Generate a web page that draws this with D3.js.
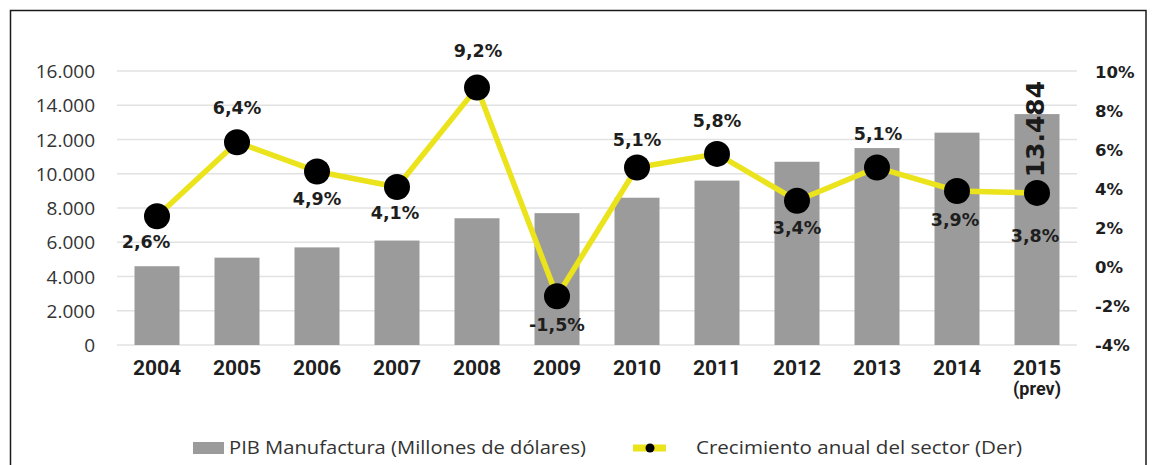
<!DOCTYPE html>
<html>
<head>
<meta charset="utf-8">
<script src="https://cdn.jsdelivr.net/npm/d3@7"></script>
<style>
  html, body { margin: 0; padding: 0; background: #fff; }
  svg { display: block; }
</style>
</head>
<body>
<svg id="chart" width="1152" height="465"></svg>
<script>
// ---- Data ----
const years = ["2004","2005","2006","2007","2008","2009","2010","2011","2012","2013","2014","2015"];
const yearSub = ["","","","","","","","","","","","(prev)"];
const pibManufactura = [4600, 5100, 5700, 6100, 7400, 7700, 8600, 9600, 10700, 11500, 12400, 13484];
const crecimiento = [2.6, 6.4, 4.9, 4.1, 9.2, -1.5, 5.1, 5.8, 3.4, 5.1, 3.9, 3.8];
const crecimientoLabels = ["2,6%","6,4%","4,9%","4,1%","9,2%","-1,5%","5,1%","5,8%","3,4%","5,1%","3,9%","3,8%"];
const leftTicks = [0, 2000, 4000, 6000, 8000, 10000, 12000, 14000, 16000];
const leftTickLabels = ["0","2.000","4.000","6.000","8.000","10.000","12.000","14.000","16.000"];
const rightTicks = [-4, -2, 0, 2, 4, 6, 8, 10];
const rightTickLabels = ["-4%","-2%","0%","2%","4%","6%","8%","10%"];
const lastBarLabel = "13.484";
const legendBar = "PIB Manufactura (Millones de dólares)";
const legendLine = "Crecimiento anual del sector (Der)";

// ---- Layout / style ----
const labelDy = [32, -28, 34, 32, -31, 35, -22, -27, 33, -28, 35, 49];
const labelDx = [-11, 0, 0, -2, 1, 0, 0, 0, 0, 1, -2, -2];
const plotLeft = 117, plotRight = 1077, plotTop = 71, plotBottom = 345;
const barColor = "#9b9b9b";
const lineColor = "#ebe31c";
const gridColor = "#e2e2e2";
const textColor = "#1e1e1e";

const svg = d3.select("#chart");

// frame
svg.append("rect")
  .attr("x", 10.5).attr("y", 10.5)
  .attr("width", 1135.5).attr("height", 470)
  .attr("fill", "none").attr("stroke", "#1a1a1a").attr("stroke-width", 1.5);

const x = d3.scaleBand()
  .domain(years)
  .range([plotLeft, plotRight])
  .paddingInner(0.4375)
  .paddingOuter(0.21875);

const yL = d3.scaleLinear().domain([0, 16000]).range([plotBottom, plotTop]);
const yR = d3.scaleLinear().domain([-4, 10]).range([plotBottom, 72]);

// gridlines
svg.append("g")
  .selectAll("line")
  .data(leftTicks)
  .join("line")
  .attr("x1", plotLeft).attr("x2", plotRight)
  .attr("y1", d => yL(d)).attr("y2", d => yL(d))
  .attr("stroke", gridColor).attr("stroke-width", 1.5);

// left axis
const leftAxis = d3.axisLeft(yL)
  .tickValues(leftTicks)
  .tickFormat((d, i) => leftTickLabels[i])
  .tickSize(0).tickPadding(0);
const gL = svg.append("g").attr("transform", "translate(95,0)").call(leftAxis);
gL.select(".domain").remove();
gL.selectAll("text")
  .attr("font-family", "'Open Sans', sans-serif")
  .attr("font-size", 19)
  .attr("fill", "#333")
  .attr("dy", "0.35em");

// right axis
const rightAxis = d3.axisRight(yR)
  .tickValues(rightTicks)
  .tickFormat((d, i) => rightTickLabels[i])
  .tickSize(0).tickPadding(0);
const gR = svg.append("g").attr("transform", "translate(1095,0)").call(rightAxis);
gR.select(".domain").remove();
gR.selectAll("text")
  .attr("font-family", "'DejaVu Sans', sans-serif")
  .attr("font-weight", "bold")
  .attr("font-size", 16.5)
  .attr("fill", textColor)
  .attr("dy", "0.35em");

// bars
svg.append("g")
  .selectAll("rect")
  .data(pibManufactura)
  .join("rect")
  .attr("x", (d, i) => x(years[i]))
  .attr("y", d => yL(d))
  .attr("width", x.bandwidth())
  .attr("height", d => yL(0) - yL(d))
  .attr("fill", barColor);

// bottom axis
const bottomAxis = d3.axisBottom(x).tickSize(0).tickPadding(0);
const gB = svg.append("g").attr("transform", `translate(0,${plotBottom})`).call(bottomAxis);
gB.select(".domain").remove();
gB.selectAll("text")
  .attr("font-family", "Roboto, sans-serif")
  .attr("font-weight", "bold")
  .attr("font-size", 21)
  .attr("fill", textColor)
  .attr("y", 30)
  .attr("dy", 0);
gB.selectAll(".tick")
  .filter((d, i) => yearSub[i] !== "")
  .append("text")
  .attr("font-family", "Roboto, sans-serif")
  .attr("font-weight", "bold")
  .attr("font-size", 18)
  .attr("fill", textColor)
  .attr("text-anchor", "middle")
  .attr("y", 50)
  .text((d) => yearSub[years.indexOf(d)]);

// last bar value (rotated)
const lastIdx = years.length - 1;
svg.append("text")
  .attr("transform", `translate(${x(years[lastIdx]) + x.bandwidth() / 2 + 7},${yL(pibManufactura[lastIdx]) + 15}) rotate(-90)`)
  .attr("font-family", "'DejaVu Sans', sans-serif")
  .attr("font-weight", "bold")
  .attr("font-size", 25)
  .attr("fill", "#1a1a1a")
  .attr("text-anchor", "middle")
  .text(lastBarLabel);

// line
const cx = i => x(years[i]) + x.bandwidth() / 2;
const line = d3.line()
  .x((d, i) => cx(i))
  .y(d => yR(d));
svg.append("path")
  .datum(crecimiento)
  .attr("d", line)
  .attr("fill", "none")
  .attr("stroke", lineColor)
  .attr("stroke-width", 5.5)
  .attr("stroke-linejoin", "round");

svg.append("g")
  .selectAll("circle")
  .data(crecimiento)
  .join("circle")
  .attr("cx", (d, i) => cx(i))
  .attr("cy", d => yR(d))
  .attr("r", 13)
  .attr("fill", "#000");

// point labels
svg.append("g")
  .selectAll("text")
  .data(crecimiento)
  .join("text")
  .attr("x", (d, i) => cx(i) + labelDx[i])
  .attr("y", (d, i) => yR(d) + labelDy[i])
  .attr("text-anchor", "middle")
  .attr("font-family", "'DejaVu Sans', sans-serif")
  .attr("font-weight", "bold")
  .attr("font-size", 17.5)
  .attr("fill", textColor)
  .text((d, i) => crecimientoLabels[i]);

// legend
const lg = svg.append("g");
lg.append("rect")
  .attr("x", 193).attr("y", 442).attr("width", 31).attr("height", 12)
  .attr("fill", barColor);
lg.append("text")
  .attr("x", 229).attr("y", 454)
  .attr("font-family", "'Open Sans', sans-serif")
  .attr("font-size", 18)
  .attr("fill", "#333")
  .attr("textLength", 357)
  .attr("lengthAdjust", "spacingAndGlyphs")
  .text(legendBar);
lg.append("line")
  .attr("x1", 633).attr("x2", 666).attr("y1", 448).attr("y2", 448)
  .attr("stroke", lineColor).attr("stroke-width", 7);
lg.append("circle")
  .attr("cx", 650).attr("cy", 448).attr("r", 4.5).attr("fill", "#000");
lg.append("text")
  .attr("x", 696).attr("y", 454)
  .attr("font-family", "'Open Sans', sans-serif")
  .attr("font-size", 18)
  .attr("fill", "#333")
  .attr("textLength", 326)
  .attr("lengthAdjust", "spacingAndGlyphs")
  .text(legendLine);
</script>
</body>
</html>
